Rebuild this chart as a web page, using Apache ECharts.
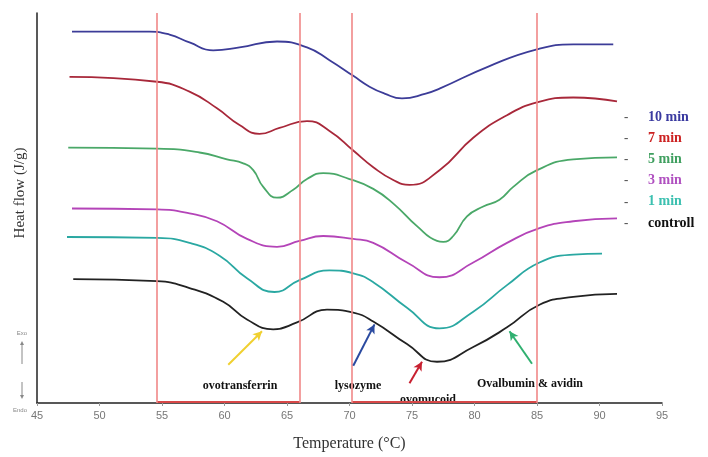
<!DOCTYPE html>
<html><head><meta charset="utf-8">
<script src="https://cdn.jsdelivr.net/npm/echarts@6/dist/echarts.min.js"></script>
<style>html,body{margin:0;padding:0;background:#fff}#c{width:708px;height:457px}</style>
</head><body><div id="c"></div>
<script>
// Temperature (°C) vs heat flow (arbitrary offset units)
var xTicks = [45,50,55,60,65,70,75,80,85,90,95];
var seriesNames = ['10 min','7 min','5 min','3 min','1 min','controll'];
var min10 = [[47.8,378],[54,378],[55.6,375],[57.2,367],[59.1,359],[61.2,362],[64.2,368],[66.6,362],[68.4,349],[70.3,333],[71.6,322],[72.8,315],[74.2,310],[76.1,315],[77.2,320],[81.2,343],[85,360],[87.9,365],[91.1,365]];
var min7 = [[47.6,332],[54.6,327],[57.2,317],[59.4,300],[61.2,283],[62.8,274],[64.4,280],[66.6,287],[68.4,277],[70.3,257],[71.9,240],[73.5,227],[74.8,222],[77.2,237],[79.9,270],[82.6,293],[85,306],[87.9,311],[91.4,307]];
var min5 = [[47.5,260],[54.6,259],[58,255],[60.2,248],[61.5,244],[62.3,237],[63.1,220],[64.2,209],[65.5,217],[66.6,228],[67.9,234],[70,228],[71.9,218],[73.6,202],[75.4,180],[77,165],[77.5,164],[78.3,170],[79.4,190],[80.7,200],[82,207],[83.1,220],[85,237],[87.9,248],[91.4,250]];
var min3 = [[47.8,198],[54.6,197],[57.2,193],[59.4,185],[61.8,167],[64.2,159],[66,165],[67.9,170],[70.3,167],[71.9,163],[74.6,143],[77.2,128],[79.9,143],[82.6,163],[85.2,178],[87.9,185],[91.4,188]];
var min1 = [[47.4,169],[54.6,168],[57.2,163],[59.6,150],[61.8,127],[64,113],[66,125],[68.4,135],[70.3,132],[71.9,123],[74.6,97],[77.2,76],[79.9,93],[82.6,120],[85.2,143],[87.9,151],[90.2,152]];
var controll = [[47.9,126],[54.6,124],[57.2,117],[59.9,103],[61.8,85],[63.9,75],[65.8,82],[68.2,95],[70.3,92],[71.9,83],[74.6,60],[77,42],[79.9,57],[82.6,77],[85.2,100],[87.9,108],[91.4,111]];
var redLines = [54.6, 66, 70.2, 85];
var rangeA = [[54.6,1],[66,1]];
var rangeB = [[70.2,1],[85,1]];
// annotation arrows: [from, to] in data units
var arrowOvotransferrin = [[60.3,39],[63.0,73]];
var arrowLysozyme = [[70.3,38],[72.0,80]];
var arrowOvomucoid = [[74.8,20],[75.8,42]];
var arrowOvalbumin = [[84.6,40],[82.8,73]];
var annotationLabels = ['ovotransferrin','lysozyme','ovomucoid','Ovalbumin & avidin'];

var lineColors = ['#3c3c98','#a8283a','#4aa868','#b444b8','#2aa8a2','#222222'];
var legendColors = ['#3a3aa0','#cc2222','#3f9f5f','#b050c0','#3cc0b0','#111111'];
var seriesData = [min10, min7, min5, min3, min1, controll];

var chart = echarts.init(document.getElementById('c'));
var series = seriesData.map(function(d,i){
  return {name: seriesNames[i], type:'line', data:d, smooth:0.5, symbol:'none',
    lineStyle:{color:lineColors[i], width:1.8}, z:3};
});
series.push({type:'line', data:[], markLine:{silent:true, symbol:'none', label:{show:false},
  lineStyle:{color:'#f08888', width:1.6, type:'solid'},
  data: redLines.map(function(v){return {xAxis:v};})}});
series.push({type:'line', data:rangeA, symbol:'none', lineStyle:{color:'#d84848', width:2}});
series.push({type:'line', data:rangeB, symbol:'none', lineStyle:{color:'#d84848', width:2}});
function arrow(a, col){
  return {type:'line', data:[], markLine:{silent:true, symbol:['none','arrow'], symbolSize:[7,9],
    label:{show:false}, lineStyle:{color:col, width:2, type:'solid'},
    data:[[{coord:a[0]},{coord:a[1]}]]}};
}
series.push(arrow(arrowOvotransferrin,'#f0d030'));
series.push(arrow(arrowLysozyme,'#2a4aa0'));
series.push(arrow(arrowOvomucoid,'#c82030'));
series.push(arrow(arrowOvalbumin,'#30b070'));

var serif = 'Liberation Serif, DejaVu Serif, serif';
var graphics = [];
seriesNames.forEach(function(n,i){
  var y = 118 + i*21.2;
  graphics.push({type:'text', left:624, top:y-7, style:{text:'-', fill:'#555', font:'bold 13px '+serif}});
  graphics.push({type:'text', left:648, top:y-8, style:{text:n, fill:legendColors[i], font:'bold 14px '+serif}});
});
graphics.push({type:'text', x:20, y:193, rotation:Math.PI/2, style:{text:'Heat flow (J/g)', fill:'#333', font:'15px '+serif, align:'center', verticalAlign:'middle'}});
graphics.push({type:'text', x:22, y:333, style:{text:'Exo', fill:'#888', font:'6px Liberation Sans, sans-serif', align:'center', verticalAlign:'middle'}});
graphics.push({type:'text', x:20, y:410, style:{text:'Endo', fill:'#888', font:'6px Liberation Sans, sans-serif', align:'center', verticalAlign:'middle'}});
graphics.push({type:'line', shape:{x1:22,y1:364,x2:22,y2:343}, style:{stroke:'#888', lineWidth:1}});
graphics.push({type:'polygon', shape:{points:[[20,345],[24,345],[22,341]]}, style:{fill:'#888'}});
graphics.push({type:'line', shape:{x1:22,y1:382,x2:22,y2:397}, style:{stroke:'#888', lineWidth:1}});
graphics.push({type:'polygon', shape:{points:[[20,395],[24,395],[22,399]]}, style:{fill:'#888'}});
var labelPos = [[240,386],[358,386],[428,400],[530,384]];
annotationLabels.forEach(function(t,i){
  graphics.push({type:'text', x:labelPos[i][0], y:labelPos[i][1], style:{text:t, fill:'#111', font:'bold 12px '+serif, align:'center', verticalAlign:'middle'}});
});

chart.setOption({
  animation:false,
  grid:{left:37, right:46, top:13, bottom:47},
  xAxis:{type:'value', min:45, max:95, interval:5,
    axisLine:{lineStyle:{color:'#222', width:1.5}},
    axisTick:{show:true, length:3, lineStyle:{color:'#999'}},
    axisLabel:{color:'#777', fontSize:11, margin:7, fontFamily:'Liberation Sans Narrow, Liberation Sans, sans-serif'},
    splitLine:{show:false},
    name:'Temperature (°C)', nameLocation:'middle', nameGap:33,
    nameTextStyle:{color:'#333', fontSize:16, fontFamily:serif}},
  yAxis:{type:'value', min:0, max:397,
    axisLine:{show:true, lineStyle:{color:'#222', width:1.5}},
    axisTick:{show:false}, axisLabel:{show:false}, splitLine:{show:false}},
  series:series,
  graphic:graphics
});
</script></body></html>
